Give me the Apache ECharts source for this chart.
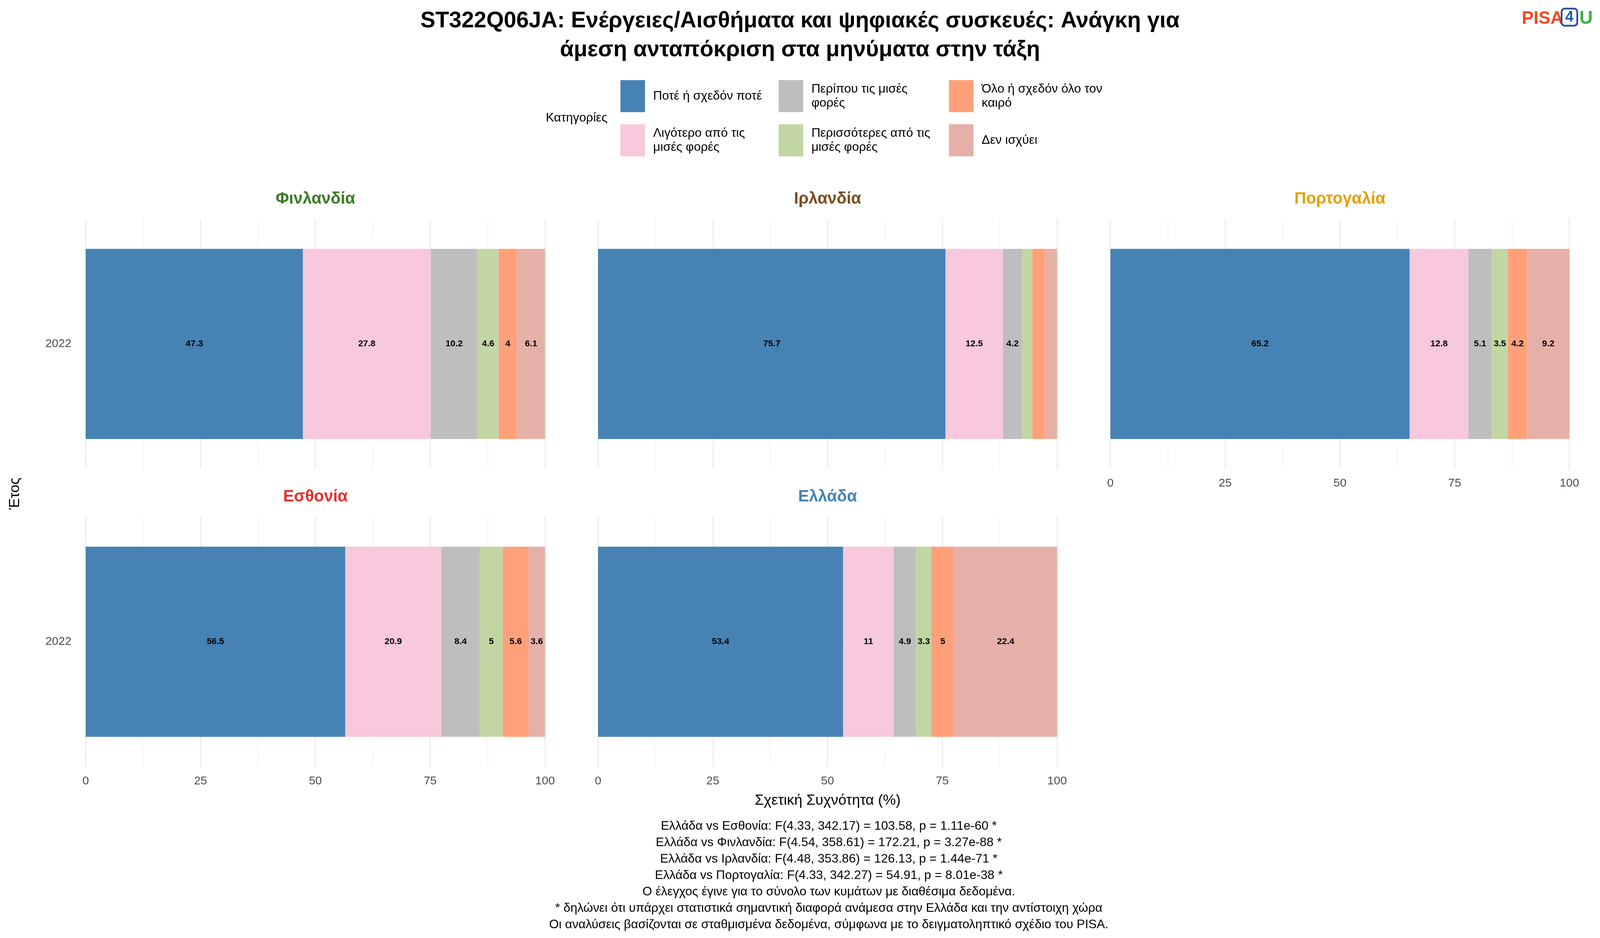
<!DOCTYPE html>
<html><head><meta charset="utf-8">
<script src="https://cdn.jsdelivr.net/npm/echarts@6/dist/echarts.min.js"></script>
<style>html,body{margin:0;padding:0;background:#fff;overflow:hidden}#c{width:100vw;height:100vh}</style>
</head><body><div id="c"></div>
<script>
const categories = ['Ποτέ ή σχεδόν ποτέ', 'Λιγότερο από τις μισές φορές', 'Περίπου τις μισές φορές',
  'Περισσότερες από τις μισές φορές', 'Όλο ή σχεδόν όλο τον καιρό', 'Δεν ισχύει'];
const legendLabels = ['Ποτέ ή σχεδόν ποτέ', 'Λιγότερο από τις\nμισές φορές', 'Περίπου τις μισές\nφορές',
  'Περισσότερες από τις\nμισές φορές', 'Όλο ή σχεδόν όλο τον\nκαιρό', 'Δεν ισχύει'];
const colors = ['#4682B4', '#F8C8DC', '#BEBEBE', '#C2D6A4', '#FFA07A', '#E5B0A8'];
const countries = ['Φινλανδία', 'Ιρλανδία', 'Πορτογαλία', 'Εσθονία', 'Ελλάδα'];
const countryColors = ['#3B7A24', '#7B4A1E', '#E69F00', '#E8302A', '#4682B4'];
const years = ['2022'];
const values = [
  [47.3, 27.8, 10.2, 4.6, 4.0, 6.1],
  [75.7, 12.5, 4.2, 2.2, 2.8, 2.6],
  [65.2, 12.8, 5.1, 3.5, 4.2, 9.2],
  [56.5, 20.9, 8.4, 5.0, 5.6, 3.6],
  [53.4, 11.0, 4.9, 3.3, 5.0, 22.4]
];
const xTicks = [0, 25, 50, 75, 100];
const notes = [
  'Ελλάδα vs Εσθονία: F(4.33, 342.17) = 103.58, p = 1.11e-60 *',
  'Ελλάδα vs Φινλανδία: F(4.54, 358.61) = 172.21, p = 3.27e-88 *',
  'Ελλάδα vs Ιρλανδία: F(4.48, 353.86) = 126.13, p = 1.44e-71 *',
  'Ελλάδα vs Πορτογαλία: F(4.33, 342.27) = 54.91, p = 8.01e-38 *',
  'Ο έλεγχος έγινε για το σύνολο των κυμάτων με διαθέσιμα δεδομένα.',
  '* δηλώνει ότι υπάρχει στατιστικά σημαντική διαφορά ανάμεσα στην Ελλάδα και την αντίστοιχη χώρα',
  'Οι αναλύσεις βασίζονται σε σταθμισμένα δεδομένα, σύμφωνα με το δειγματοληπτικό σχέδιο του PISA.'
];

const F = 'Liberation Sans, Arial, sans-serif';
const chart = echarts.init(document.getElementById('c'));
// layout designed for 4500x2400; scale to the real viewport
const sx = chart.getWidth() / 4500, sy = chart.getHeight() / 2400;
const s = Math.min(sx, sy);

const panelX = [[241, 1533], [1682, 2973], [3123, 4414]];
const panelY = [[560, 1200], [1322, 1962]];
const pos = [[0, 0], [1, 0], [2, 0], [0, 1], [1, 1]];
const showX = [false, false, true, true, true];

const grid = [], xAxis = [], yAxis = [], series = [], graphic = [];
countries.forEach((c, i) => {
  const [col, row] = pos[i];
  grid.push({ left: panelX[col][0] * sx, width: (panelX[col][1] - panelX[col][0]) * sx,
    top: panelY[row][0] * sy, height: (panelY[row][1] - panelY[row][0]) * sy });
  xAxis.push({ gridIndex: i, type: 'value', min: 0, max: 100, interval: 25,
    axisLine: { show: false }, axisTick: { show: false },
    axisLabel: { show: showX[i], fontSize: 33 * s, color: '#4d4d4d', fontFamily: F, margin: 22 * sy,
      formatter: v => xTicks.includes(v) ? String(v) : '' },
    splitLine: { lineStyle: { color: '#ebebeb', width: 3 * s } },
    minorTick: { show: false, splitNumber: 2 },
    minorSplitLine: { show: true, lineStyle: { color: '#f3f3f3', width: 2 * s } } });
  yAxis.push({ gridIndex: i, type: 'category', data: years,
    axisLine: { show: false }, axisTick: { show: false },
    axisLabel: { show: col === 0, fontSize: 33 * s, color: '#4d4d4d', fontFamily: F, margin: 40 * sx },
    splitLine: { show: false } });
  series.push({ type: 'line', xAxisIndex: i, yAxisIndex: i, data: [], silent: true, z: 0,
    markLine: { silent: true, symbol: 'none', z: 0, label: { show: false },
      lineStyle: { color: '#ebebeb', width: 3 * s, type: 'solid' }, data: [{ yAxis: '2022' }] } });
  categories.forEach((k, j) => {
    series.push({ type: 'bar', name: k, stack: 's' + i, xAxisIndex: i, yAxisIndex: i, z: 3,
      barWidth: '76%', itemStyle: { color: colors[j] },
      label: { show: values[i][j] >= 3, position: 'inside', fontSize: 25 * s, fontWeight: 'bold',
        color: '#000', fontFamily: F, formatter: p => String(p.value) },
      data: [values[i][j]] });
  });
  graphic.push({ type: 'text', x: (panelX[col][0] + panelX[col][1]) / 2 * sx, y: (panelY[row][0] - 72) * sy,
    style: { text: c, fontSize: 46 * s, fontWeight: 'bold', fill: countryColors[i], fontFamily: F, textAlign: 'center' } });
});

graphic.push({ type: 'text', x: 1535 * sx, y: 302 * sy, style: { text: 'Κατηγορίες', fontSize: 35 * s, fill: '#000', fontFamily: F, verticalAlign: 'middle' } });
const lx = [1745, 2190, 2669], ly = [205, 318];
categories.forEach((k, j) => {
  const x = lx[Math.floor(j / 2)], y = ly[j % 2];
  graphic.push({ type: 'rect', shape: { x: x * sx, y: y * sy, width: 69 * sx, height: 82 * sy }, style: { fill: colors[j] } });
  graphic.push({ type: 'text', x: (x + 92) * sx, y: (y + 41) * sy, style: { text: legendLabels[j], fontSize: 35 * s, fill: '#000',
    fontFamily: F, verticalAlign: 'middle', lineHeight: 40 * s } });
});
graphic.push({ type: 'text', x: 2328 * sx, y: 2030 * sy, style: { text: 'Σχετική Συχνότητα (%)', fontSize: 41 * s, fill: '#000', fontFamily: F, textAlign: 'center' } });
graphic.push({ type: 'text', x: 43 * sx, y: 1263 * sy, rotation: Math.PI / 2, style: { text: 'Έτος', fontSize: 41 * s, fill: '#000', fontFamily: F, textAlign: 'center', verticalAlign: 'middle' } });
graphic.push({ type: 'text', x: 2331 * sx, y: 2093 * sy, style: { text: notes.join('\n'), fontSize: 35 * s, lineHeight: 42 * sy, fill: '#000', fontFamily: F, textAlign: 'center' } });
graphic.push({ type: 'text', x: 4280 * sx, y: 48 * sy, style: { text: 'PISA', fontSize: 50 * s, fontWeight: 'bold', fill: '#F04A24', fontFamily: F, verticalAlign: 'middle' } });
graphic.push({ type: 'rect', shape: { x: 4392 * sx, y: 22 * sy, width: 44 * s, height: 48 * s, r: 9 * s }, style: { fill: 'none', stroke: '#2B4C9B', lineWidth: 5 * s } });
graphic.push({ type: 'text', x: 4392 * sx + 22 * s, y: 22 * sy + 25 * s, style: { text: '4', fontSize: 42 * s, fontWeight: 'bold', fill: '#1F5BA8', fontFamily: F, textAlign: 'center', verticalAlign: 'middle' } });
graphic.push({ type: 'text', x: 4392 * sx + 50 * s, y: 48 * sy, style: { text: 'U', fontSize: 52 * s, fontWeight: 'bold', fill: '#3FAE49', fontFamily: F, verticalAlign: 'middle' } });

chart.setOption({
  animation: false,
  title: { text: 'ST322Q06JA: Ενέργειες/Αισθήματα και ψηφιακές συσκευές: Ανάγκη για\nάμεση ανταπόκριση στα μηνύματα στην τάξη',
    left: 'center', top: 12 * sy, textStyle: { fontSize: 63 * s, fontWeight: 'bold', color: '#000', fontFamily: F, lineHeight: 74 * sy } },
  grid, xAxis, yAxis, series, graphic
});
</script></body></html>
